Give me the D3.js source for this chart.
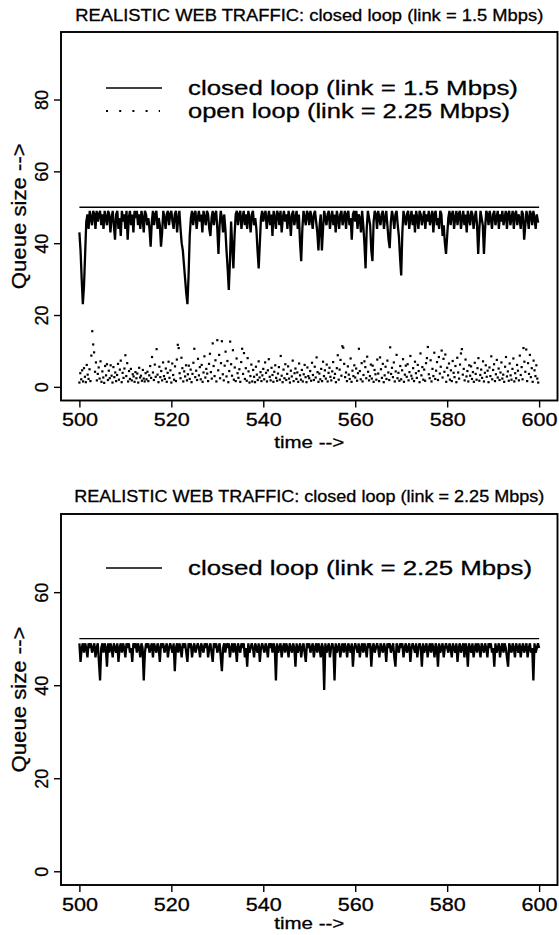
<!DOCTYPE html>
<html>
<head>
<meta charset="utf-8">
<script src="https://cdn.jsdelivr.net/npm/d3@7"></script>
<style>
  body { margin: 0; background: #fff; }
  text { font-family: "Liberation Sans", Arial, sans-serif; fill: #000; stroke: #000; stroke-width: 0.3px; }
</style>
</head>
<body>
<svg id="chart" width="559" height="935"></svg>
<script>
// sampling grid of the traces (seconds)
const tStart = 500;
const lineStep = 0.25;
const dotStep = 0.2;

const xTicks = [500, 520, 540, 560, 580, 600];
const yTicksTop = [0, 20, 40, 60, 80];
const yTicksBottom = [0, 20, 40, 60];
const bufferLimit = 50;

// closed loop queue size, link = 1.5 Mbps (every 0.25 s)
const closed15 = [
  43, 38, 30, 23, 28, 37, 46, 48, 44, 49,
  47, 45, 49, 48, 44, 49, 46, 48, 49, 45,
  48, 44, 49, 47, 45, 49, 48, 43, 47, 49,
  45, 41, 48, 49, 44, 47, 42, 49, 46, 48,
  44, 49, 41, 47, 49, 45, 48, 43, 49, 47,
  49, 45, 48, 44, 49, 47, 43, 49, 48, 45,
  47, 44, 39, 46, 49, 45, 48, 49, 44, 47,
  45, 39, 43, 49, 47, 44, 48, 49, 45, 48,
  49, 46, 44, 48, 49, 43, 47, 49, 44, 40,
  38, 34, 30, 26, 23, 31, 42, 47, 49, 45,
  48, 49, 44, 47, 49, 46, 48, 43, 49, 47,
  45, 49, 48, 44, 42, 47, 49, 45, 48, 49,
  44, 37, 45, 49, 47, 43, 48, 44, 38, 33,
  27, 35, 46, 39, 33, 42, 48, 49, 45, 48,
  49, 44, 47, 49, 45, 48, 44, 49, 47, 43,
  48, 49, 45, 47, 44, 38, 33, 40, 47, 49,
  46, 48, 49, 44, 47, 49, 45, 48, 42, 49,
  47, 44, 49, 48, 45, 49, 43, 47, 49, 46,
  48, 44, 49, 47, 42, 48, 49, 45, 47, 49,
  44, 48, 40, 35, 44, 49, 47, 45, 49, 48,
  45, 49, 47, 44, 48, 49, 46, 43, 38, 45,
  48, 38, 44, 49, 47, 45, 48, 49, 44, 47,
  49, 45, 48, 43, 49, 47, 44, 48, 49, 45,
  47, 49, 44, 48, 49, 45, 47, 41, 48, 49,
  46, 49, 44, 48, 47, 43, 49, 45, 40, 33,
  44, 49, 47, 45, 38, 35, 46, 49, 48, 44,
  49, 47, 45, 48, 49, 44, 47, 49, 45, 41,
  38.6, 46, 49, 47, 44, 48, 49, 45, 42, 36,
  31, 43, 49, 47, 45, 48, 49, 44, 47, 49,
  45, 48, 43, 49, 47, 44, 49, 48, 45, 47,
  49, 44, 48, 46, 49, 45, 47, 49, 43, 48,
  49, 45, 47, 44, 49, 48, 42, 45, 40, 37,
  42, 47, 49, 45, 48, 49, 44, 47, 49, 45,
  48, 49, 44, 47, 49, 45, 48, 43, 49, 47,
  45, 49, 48, 44, 47, 49, 45, 37, 44, 49,
  47, 45, 37, 44, 49, 48, 45, 49, 47, 44,
  48, 49, 45, 47, 49, 44, 48, 46, 49, 45,
  47, 49, 44, 48, 49, 45, 47, 49, 44, 48,
  49, 45, 48, 47, 44, 49, 48, 41, 45, 49,
  47, 44, 49, 48, 45, 49, 47, 44, 48, 46, 46
];

// open loop queue size, link = 2.25 Mbps (every 0.2 s)
const open225 = [
  1.2, 3.8, 2.1, 4.6, 1.5, 5.2, 2.8, 1.3, 6.1, 3.4, 2.2, 4.9, 1.6, 8.7, 15.5, 11.8, 9.6, 4.2, 6.8, 1.8, 3.6, 5.4, 2.3, 7.1, 1.4,
  4.3, 2.6, 1.1, 5.8, 3.2, 6.3, 1.9, 4.5, 2.4, 6.0, 3.1, 1.2, 5.5, 2.7, 4.0, 1.6, 3.3, 6.4, 2.0, 4.8, 7.3, 1.3, 3.9, 2.5, 5.1,
  8.8, 3.0, 6.6, 1.5, 4.4, 2.2, 5.0, 1.8, 3.5, 2.9, 1.4, 4.1, 2.4, 3.7, 1.2, 5.3, 2.6, 3.1, 1.7, 4.7, 2.3, 1.5, 3.8, 2.1, 4.2,
  1.6, 3.2, 5.8, 2.5, 8.3, 4.0, 1.9, 6.2, 2.8, 10.5, 3.4, 1.3, 5.6, 2.7, 4.4, 1.8, 6.8, 3.0, 2.2, 5.1, 1.4, 3.9, 7.0, 2.5, 4.6,
  1.2, 6.5, 3.3, 2.0, 5.7, 1.6, 7.6, 11.7, 10.8, 3.8, 2.4, 8.1, 5.2, 1.5, 4.3, 2.9, 6.0, 1.8, 3.5, 5.9, 2.2, 4.8, 1.3, 3.6, 6.7,
  10.6, 2.7, 4.5, 1.9, 7.8, 3.2, 5.5, 2.1, 6.1, 1.4, 4.0, 8.5, 2.6, 5.0, 3.7, 1.6, 6.4, 9.2, 4.1, 2.3, 12.1, 5.8, 3.0, 7.4, 1.5,
  13.0, 4.6, 8.9, 2.4, 6.6, 12.7, 3.5, 1.8, 5.9, 9.8, 2.9, 7.2, 1.3, 4.4, 12.6, 6.3, 3.1, 10.2, 2.0, 5.4, 1.6, 7.9, 3.8, 2.5, 4.9,
  1.4, 6.9, 10.6, 3.6, 9.4, 2.2, 5.2, 1.7, 8.0, 4.3, 1.2, 3.0, 6.2, 1.5, 4.7, 2.8, 1.3, 5.6, 3.4, 1.9, 7.1, 2.6, 4.1, 1.6, 3.2,
  5.0, 2.1, 6.8, 3.9, 1.5, 4.6, 7.7, 2.8, 1.8, 5.3, 3.3, 1.4, 4.2, 6.0, 2.5, 1.7, 3.7, 5.5, 2.0, 8.6, 3.1, 1.3, 4.8, 2.4, 6.3,
  1.9, 3.6, 5.7, 2.3, 1.2, 4.5, 2.9, 7.3, 1.6, 3.8, 5.1, 2.2, 4.0, 1.4, 6.5, 3.2, 2.0, 4.7, 1.5, 3.5, 6.1, 2.7, 1.3, 5.4, 3.0,
  2.4, 4.4, 1.7, 6.7, 3.3, 1.9, 5.6, 2.6, 8.2, 4.1, 1.4, 3.7, 2.1, 5.0, 1.6, 7.0, 3.0, 4.6, 2.3, 6.2, 1.5, 3.9, 5.3, 2.8, 1.8,
  4.3, 6.9, 2.5, 3.6, 1.3, 5.2, 8.8, 2.0, 4.8, 7.5, 3.1, 11.3, 10.9, 6.4, 2.7, 4.0, 1.6, 5.7, 3.4, 2.2, 7.9, 1.4, 4.5, 3.0, 6.0,
  2.6, 5.1, 1.7, 3.8, 10.6, 4.4, 2.1, 6.6, 1.5, 3.3, 7.1, 5.5, 2.4, 8.4, 4.2, 1.8, 3.0, 6.2, 2.3, 5.9, 1.4, 4.7, 3.5, 2.0, 7.6,
  3.7, 1.6, 8.2, 4.9, 2.5, 6.4, 1.3, 3.2, 5.6, 2.2, 7.3, 4.0, 1.9, 11.0, 3.6, 5.3, 2.7, 6.8, 1.5, 4.3, 8.9, 2.4, 3.9, 1.7, 5.8,
  2.1, 4.6, 7.7, 1.4, 3.4, 5.9, 2.8, 6.3, 1.8, 4.1, 8.6, 3.1, 2.3, 5.2, 1.6, 7.0, 3.8, 2.5, 6.1, 4.4, 1.3, 9.3, 3.2, 5.5, 2.0,
  4.8, 1.7, 6.6, 8.0, 11.1, 3.5, 2.4, 7.4, 1.5, 5.0, 3.0, 9.5, 2.2, 4.5, 6.9, 1.9, 8.3, 3.7, 5.6, 10.1, 2.6, 7.8, 4.2, 9.0, 1.4,
  5.3, 3.2, 6.5, 2.0, 4.6, 1.6, 7.2, 3.9, 2.7, 5.8, 1.3, 8.1, 4.0, 2.3, 6.2, 9.3, 10.5, 3.4, 5.0, 1.8, 7.6, 2.9, 4.4, 1.5, 6.0,
  3.1, 5.7, 2.2, 4.1, 1.4, 6.7, 3.6, 2.0, 5.2, 8.0, 1.7, 3.3, 4.8, 2.5, 7.1, 1.5, 3.9, 6.0, 2.8, 4.5, 1.3, 5.4, 3.0, 8.5, 2.1,
  4.7, 6.3, 1.6, 3.5, 7.5, 2.6, 5.1, 1.9, 4.0, 6.8, 2.3, 3.4, 1.4, 5.6, 8.3, 2.9, 4.3, 1.7, 6.5, 3.2, 2.0, 5.0, 7.9, 1.5, 3.8,
  2.4, 6.1, 4.5, 1.8, 8.7, 3.3, 5.5, 2.1, 10.8, 7.0, 4.2, 10.4, 1.6, 6.6, 3.6, 8.9, 2.7, 5.2, 1.4, 7.3, 4.6, 3.0, 6.0, 2.3, 1.2
];

// closed loop queue size, link = 2.25 Mbps (every 0.25 s)
const closed225 = [
  49, 45, 48, 49, 47, 49, 48, 46, 49, 48,
  49, 47, 48, 49, 46, 48, 49, 45, 41, 48,
  49, 47, 49, 48, 44, 49, 47, 49, 48, 46,
  49, 48, 47, 49, 45, 48, 49, 47, 49, 48,
  46, 49, 48, 49, 47, 48, 45, 49, 48, 49,
  47, 49, 48, 46, 49, 48, 41, 47, 49, 48,
  49, 47, 48, 49, 46, 49, 48, 47, 49, 48,
  45, 49, 48, 49, 47, 48, 49, 46, 48, 49,
  48, 47, 49, 43, 48, 49, 47, 49, 48, 46,
  49, 48, 49, 47, 45, 49, 48, 49, 46, 48,
  49, 47, 48, 49, 48, 46, 49, 48, 47, 49,
  48, 49, 46, 48, 49, 47, 45, 49, 48, 49,
  47, 48, 49, 46, 43, 48, 49, 47, 49, 48,
  49, 46, 48, 49, 47, 49, 48, 45, 49, 48,
  47, 49, 48, 49, 46, 48, 44, 49, 47, 48,
  49, 48, 46, 49, 48, 47, 49, 45, 48, 49,
  48, 47, 49, 48, 46, 49, 48, 49, 47, 49,
  48, 41, 49, 47, 48, 49, 46, 48, 49, 47,
  49, 48, 46, 49, 48, 47, 49, 48, 44, 49,
  47, 48, 49, 46, 48, 49, 47, 45, 49, 48,
  49, 47, 48, 49, 46, 48, 49, 47, 49, 48,
  46, 49, 48, 39, 49, 47, 48, 49, 46, 48,
  49, 48, 41, 49, 47, 48, 49, 46, 48, 49,
  47, 49, 48, 46, 49, 48, 47, 49, 44, 48,
  49, 48, 47, 49, 46, 48, 49, 47, 49, 48,
  46, 49, 48, 49, 44, 48, 49, 47, 48, 49,
  48, 46, 49, 48, 47, 49, 48, 45, 49, 48,
  49, 47, 48, 49, 46, 44, 49, 48, 47, 49,
  48, 49, 46, 48, 49, 47, 48, 49, 45, 48,
  49, 48, 47, 49, 46, 48, 49, 48, 44, 49,
  47, 48, 49, 46, 48, 49, 47, 49, 48, 46,
  49, 48, 44, 49, 47, 48, 49, 46, 48, 49,
  48, 47, 49, 48, 46, 49, 48, 47, 49, 45,
  48, 49, 47, 48, 49, 46, 49, 48, 44, 49,
  48, 47, 49, 46, 48, 49, 47, 49, 48, 46,
  49, 48, 47, 49, 48, 46, 49, 48, 49, 47,
  48, 44, 49, 47, 48, 49, 46, 48, 49, 47,
  49, 48, 46, 44, 49, 48, 47, 49, 48, 46,
  49, 48, 47, 49, 46, 48, 49, 47, 48, 49,
  46, 48, 49, 47, 48, 41, 49, 47, 48, 49, 48
];

const svg = d3.select("#chart");

// x scale is shared, R style 4% padding around 500..600
const x = d3.scaleLinear().domain([496, 604]).range([61, 557.5]);

function toPoints(values, step) {
  return values.map((v, i) => ({ t: tStart + i * step, v: v }));
}

function drawPanel(o) {
  const g = svg.append("g");
  const y = d3.scaleLinear().domain(o.yDomain).range([o.bottom, o.top]);
  const midX = (x.range()[0] + x.range()[1]) / 2;

  // title
  g.append("text")
    .attr("x", midX)
    .attr("y", o.titleY)
    .attr("text-anchor", "middle")
    .attr("font-size", 16)
    .attr("textLength", o.titleLen)
    .attr("lengthAdjust", "spacingAndGlyphs")
    .text(o.title);

  // buffer limit line
  g.append("line")
    .attr("x1", x(500)).attr("x2", x(600))
    .attr("y1", y(bufferLimit)).attr("y2", y(bufferLimit))
    .attr("stroke", "#000")
    .attr("stroke-width", 1.3);

  // closed loop trace; thick stroke so the dense samples read as a solid band
  const line = d3.line().x((d) => x(d.t)).y((d) => y(d.v));
  g.append("path")
    .datum(toPoints(o.closed, lineStep))
    .attr("d", line)
    .attr("fill", "none")
    .attr("stroke", "#000")
    .attr("stroke-width", 2.3)
    .attr("stroke-linejoin", "bevel");

  // open loop dots (top panel only)
  if (o.open) {
    g.append("g")
      .selectAll("rect")
      .data(toPoints(o.open, dotStep))
      .join("rect")
      .attr("x", (d) => x(d.t) - 1.1)
      .attr("y", (d) => y(d.v) - 1.1)
      .attr("width", 2.2)
      .attr("height", 2.2)
      .attr("fill", "#000");
  }

  // axes
  const xAxis = g.append("g")
    .attr("transform", `translate(0, ${o.bottom})`)
    .call(d3.axisBottom(x).tickValues(xTicks).tickSize(7).tickSizeOuter(0));
  xAxis.select(".domain").remove();
  xAxis.selectAll("line").attr("stroke-width", 1.4);
  xAxis.selectAll("text")
    .attr("font-size", 18)
    .attr("font-family", null)
    .attr("y", 13)
    .attr("textLength", 36)
    .attr("lengthAdjust", "spacingAndGlyphs");

  const yAxis = g.append("g")
    .attr("transform", `translate(${x.range()[0]}, 0)`)
    .call(d3.axisLeft(y).tickValues(o.yTicks).tickSize(7).tickSizeOuter(0));
  yAxis.select(".domain").remove();
  yAxis.selectAll("line").attr("stroke-width", 1.4);
  yAxis.selectAll("text")
    .attr("font-size", 18)
    .attr("font-family", null)
    .attr("text-anchor", "middle")
    .attr("transform", "rotate(-90)")
    .attr("x", 0)
    .attr("y", -19)
    .attr("dy", "0.35em");

  // frame
  g.append("rect")
    .attr("x", x.range()[0])
    .attr("y", o.top)
    .attr("width", x.range()[1] - x.range()[0])
    .attr("height", o.bottom - o.top)
    .attr("fill", "none")
    .attr("stroke", "#000")
    .attr("stroke-width", 1.9);

  // axis titles
  g.append("text")
    .attr("x", midX)
    .attr("y", o.bottom + o.timeY)
    .attr("text-anchor", "middle")
    .attr("font-size", 17)
    .attr("textLength", 70)
    .attr("lengthAdjust", "spacingAndGlyphs")
    .text("time -->");

  g.append("text")
    .attr("transform", `translate(26, ${(o.top + o.bottom) / 2}) rotate(-90)`)
    .attr("text-anchor", "middle")
    .attr("font-size", 20)
    .attr("textLength", 146)
    .attr("lengthAdjust", "spacingAndGlyphs")
    .text("Queue size -->");

  // legend
  const lx1 = 106, lx2 = 162, tx = 188;
  o.legend.forEach((item, i) => {
    const ly = o.top + o.legendY + i * 23;
    g.append("line")
      .attr("x1", lx1).attr("x2", item.dotted ? lx1 + 54 : lx2)
      .attr("y1", ly).attr("y2", ly)
      .attr("stroke", "#000")
      .attr("stroke-width", item.dotted ? 2 : 1.4)
      .attr("stroke-dasharray", item.dotted ? "2,11.2" : null);
    g.append("text")
      .attr("x", tx)
      .attr("y", ly + 7)
      .attr("font-size", 20)
      .attr("textLength", item.len)
      .attr("lengthAdjust", "spacingAndGlyphs")
      .text(item.label);
  });
}

drawPanel({
  title: "REALISTIC WEB TRAFFIC: closed loop (link = 1.5 Mbps)",
  titleY: 21,
  titleLen: 468,
  top: 32,
  bottom: 400.5,
  yDomain: [-3.8, 98.8],
  yTicks: yTicksTop,
  closed: closed15,
  open: open225,
  legendY: 56,
  timeY: 47,
  legend: [
    { label: "closed loop (link = 1.5 Mbps)", len: 330, dotted: false },
    { label: "open loop (link = 2.25 Mbps)", len: 322, dotted: true }
  ]
});

drawPanel({
  title: "REALISTIC WEB TRAFFIC: closed loop (link = 2.25 Mbps)",
  titleY: 502,
  titleLen: 470,
  top: 514,
  bottom: 885,
  yDomain: [-2.95, 76.8],
  yTicks: yTicksBottom,
  closed: closed225,
  open: null,
  legendY: 54,
  timeY: 44,
  legend: [
    { label: "closed loop (link = 2.25 Mbps)", len: 344, dotted: false }
  ]
});
</script>
</body>
</html>
